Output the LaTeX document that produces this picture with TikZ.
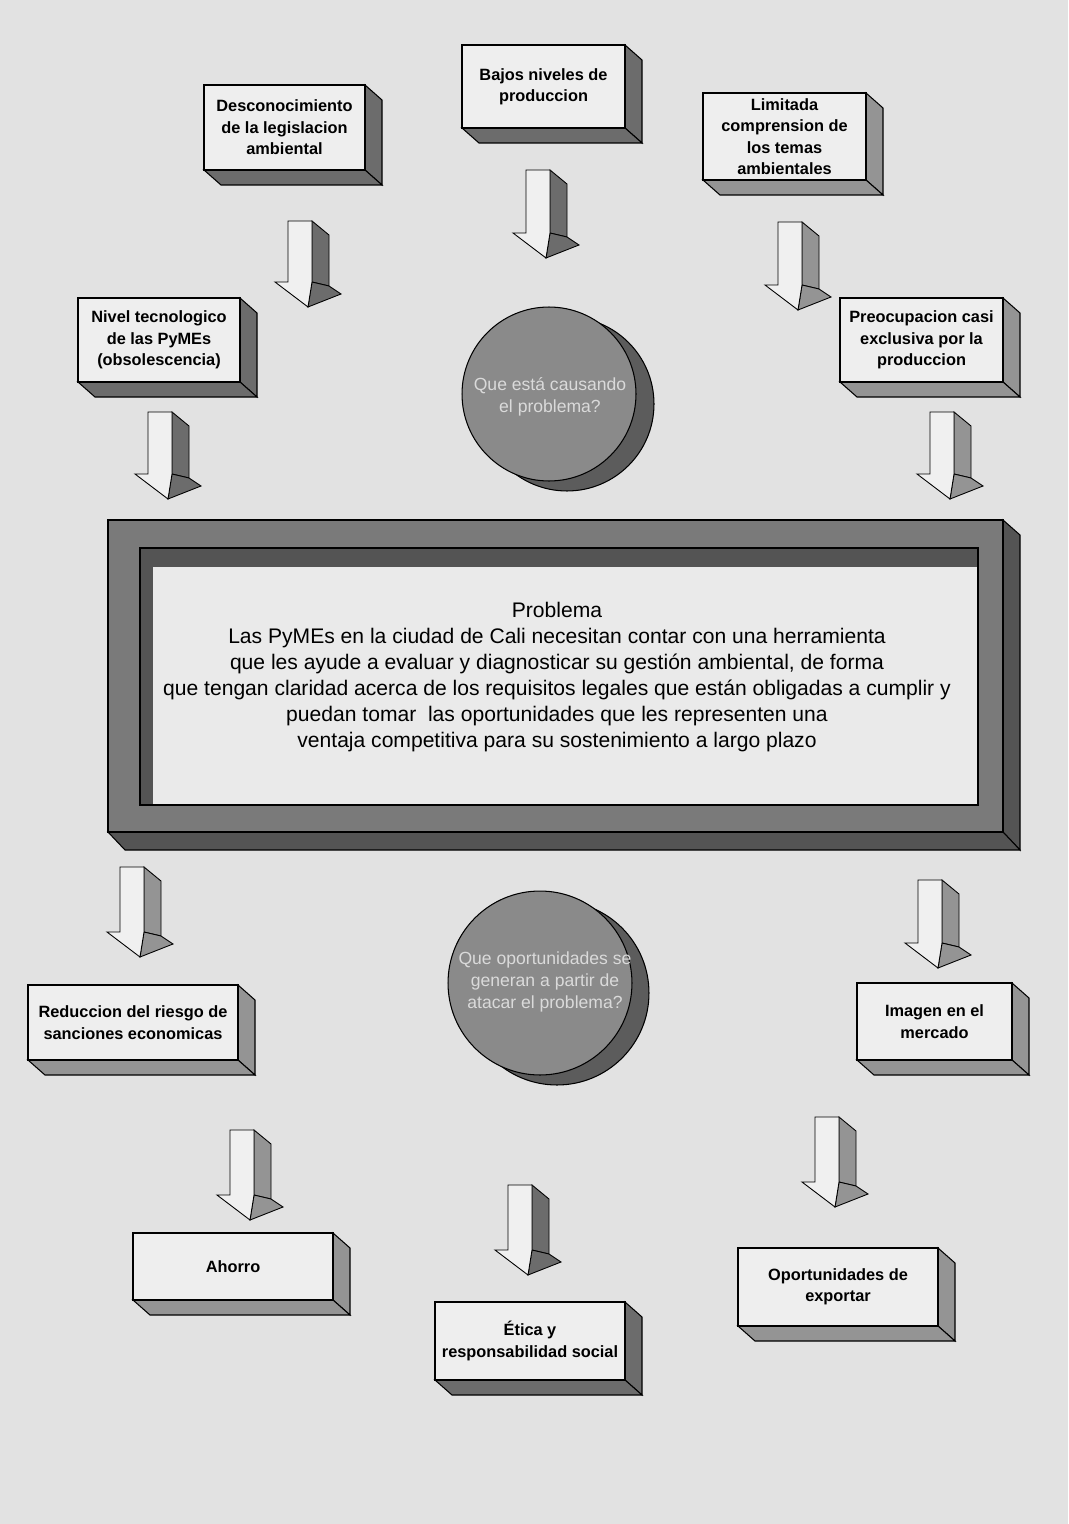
\documentclass[tikz,border=0pt]{standalone}
\usepackage{fontspec}
\setmainfont{Liberation Sans}
\definecolor{bg}{RGB}{226,226,226}
\definecolor{face}{RGB}{238,238,238}
\definecolor{sidedark}{RGB}{108,108,108}
\definecolor{sidemid}{RGB}{148,148,148}
\definecolor{framec}{RGB}{122,122,122}
\definecolor{framedk}{RGB}{84,84,84}
\definecolor{panel}{RGB}{234,234,234}
\definecolor{circf}{RGB}{138,138,138}
\definecolor{circs}{RGB}{92,92,92}
\definecolor{circt}{RGB}{218,218,218}
\definecolor{arrface}{RGB}{240,240,240}
\tikzset{
  boxtext/.style={align=center, inner sep=0pt, font=\fontsize{9.3}{12.2}\selectfont\bfseries},
  circtext/.style={align=center, inner sep=0pt, text=circt, font=\fontsize{10}{12.3}\selectfont},
  probtext/.style={align=center, inner sep=0pt, font=\fontsize{12}{14.7}\selectfont},
  edge3d/.style={draw=black, line width=0.6pt},
}
\newcommand\tdbox[7]{%
  \path[edge3d, fill=#6] (#4,#3) -- (#4+17,#3+15) -- (#4+17,#5+15) -- (#4,#5) -- cycle;
  \path[edge3d, fill=#6] (#2,#5) -- (#4,#5) -- (#4+17,#5+15) -- (#2+17,#5+15) -- cycle;
  \path[edge3d, fill=face] (#2,#3) rectangle (#4,#5);
  \node[boxtext] (#1) at ({(#2+#4)/2},{(#3+#5)/2}) {#7};
}
\newcommand\barrow[4]{%
  \begin{scope}[shift={(#1,#2)}]
    \path[edge3d, line width=0.5pt, fill=#4] (24,0) -- (41,14) -- (41,#3+4) -- (24,#3) -- cycle;
    \path[edge3d, line width=0.5pt, fill=#4] (24,#3) -- (41,#3+4) -- (53,#3+12) -- (20,#3+25) -- cycle;
    \path[edge3d, line width=0.5pt, fill=arrface] (0,0) -- (24,0) -- (24,#3) -- (20,#3+25) -- (-13,#3) -- (0,#3) -- cycle;
  \end{scope}}
\begin{document}
\begin{tikzpicture}[x=0.02cm, y=-0.02cm]
\fill[bg] (0,0) rectangle (1068,1524);
\useasboundingbox (0,0) rectangle (1068,1524);

% top boxes
\tdbox{desc}{204}{85}{365}{170}{sidedark}{Desconocimiento\\de la legislacion\\ambiental}
\tdbox{bajos}{462}{45}{625}{128}{sidedark}{Bajos niveles de\\produccion}
\tdbox{limit}{703}{93}{866}{180}{sidemid}{Limitada\\comprension de\\los temas\\ambientales}
\tdbox{nivel}{78}{298}{240}{382}{sidedark}{Nivel tecnologico\\de las PyMEs\\(obsolescencia)}
\tdbox{preoc}{840}{298}{1003}{382}{sidemid}{Preocupacion casi\\exclusiva por la\\produccion}

% circle 1
\fill[circs, draw=black, line width=0.6pt] (567,404) circle[radius=1.74cm];
\node[circle, fill=circf, draw=black, line width=0.6pt, minimum size=3.48cm, inner sep=0pt] (q1) at (549,394) {};
\node[circtext] (q1t) at (550,397) {Que está causando\\el problema?};

% arrows top
\barrow{288}{221}{61}{sidedark}
\barrow{526}{170}{63}{sidedark}
\barrow{778}{222}{63}{sidemid}
\barrow{148}{412}{62}{sidedark}
\barrow{930}{412}{62}{sidemid}

% big problem box
\path[edge3d, fill=framedk] (1003,520) -- (1020,535) -- (1020,850) -- (1003,832) -- cycle;
\path[edge3d, fill=framedk] (108,832) -- (1003,832) -- (1020,850) -- (125,850) -- cycle;
\path[edge3d, fill=framec] (108,520) rectangle (1003,832);
\path[edge3d, fill=framedk] (140,548) rectangle (978,805);
\path[fill=panel] (153,567) -- (978,567) -- (978,805) -- (153,805) -- cycle;
\draw[line width=0.6pt] (140,548) rectangle (978,805);
\node[probtext] (prob) at (557,677) {Problema\\
Las PyMEs en la ciudad de Cali necesitan contar con una herramienta\\
que les ayude a evaluar y diagnosticar su gestión ambiental, de forma\\
que tengan claridad acerca de los requisitos legales que están obligadas a cumplir y\\
puedan tomar \ las oportunidades que les representen una\\
ventaja competitiva para su sostenimiento a largo plazo};

% circle 2
\fill[circs, draw=black, line width=0.6pt] (557,993) circle[radius=1.84cm];
\node[circle, fill=circf, draw=black, line width=0.6pt, minimum size=3.68cm, inner sep=0pt] (q2) at (540,983) {};
\node[circtext] (q2t) at (545,982) {Que oportunidades se\\generan a partir de\\atacar el problema?};

% lower arrows
\barrow{120}{867}{65}{sidemid}
\barrow{918}{880}{63}{sidemid}
\barrow{230}{1130}{65}{sidemid}
\barrow{508}{1185}{65}{sidedark}
\barrow{815}{1117}{65}{sidemid}

% lower boxes
\tdbox{reduc}{28}{985}{238}{1060}{sidemid}{Reduccion del riesgo de\\sanciones economicas}
\tdbox{imagen}{857}{983}{1012}{1060}{sidemid}{Imagen en el\\mercado}
\tdbox{ahorro}{133}{1233}{333}{1300}{sidemid}{Ahorro}
\tdbox{etica}{435}{1302}{625}{1380}{sidedark}{Ética y\\responsabilidad social}
\tdbox{export}{738}{1248}{938}{1326}{sidemid}{Oportunidades de\\exportar}
\end{tikzpicture}
\end{document}
